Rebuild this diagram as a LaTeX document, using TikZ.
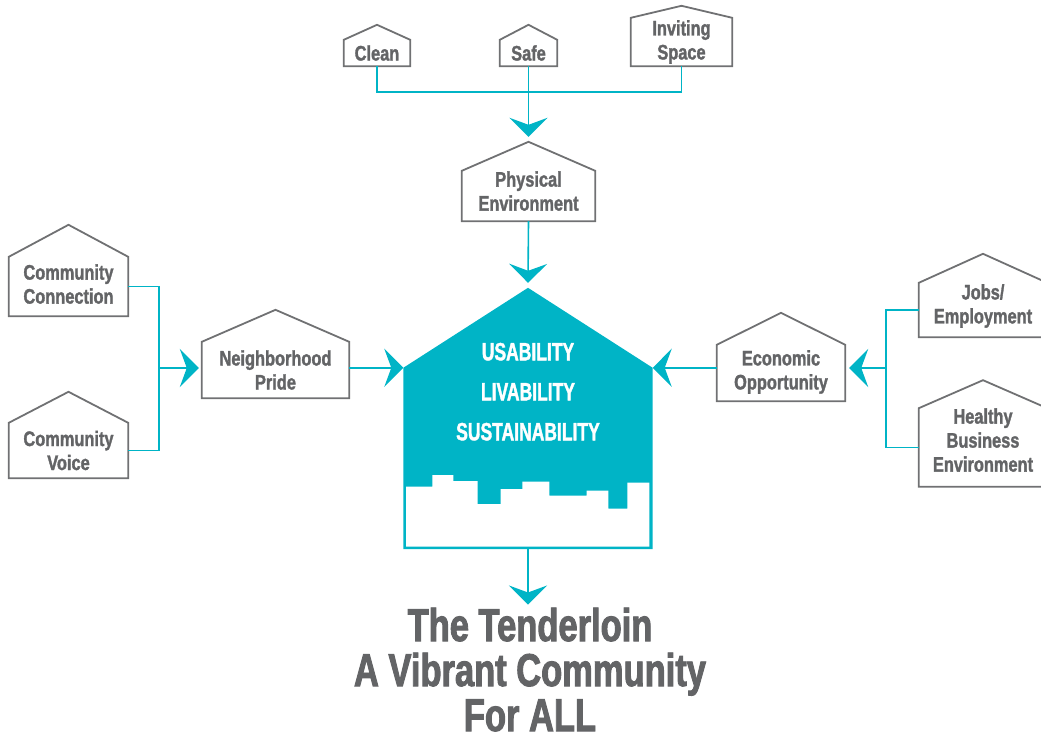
\documentclass[tikz,border=0pt]{standalone}
\usepackage{fontspec}
\usetikzlibrary{arrows.meta,calc}
\newfontfamily\labfont[FakeStretch=0.78,FakeBold=1.5]{Liberation Sans Bold}
\newfontfamily\capfont[FakeStretch=0.70,FakeBold=1.5]{Liberation Sans Bold}
\newfontfamily\bigfont[FakeStretch=0.75,FakeBold=2]{Liberation Sans Bold}
\definecolor{teal1}{RGB}{0,180,198}
\definecolor{gtext}{RGB}{99,100,102}
\definecolor{gline}{RGB}{112,113,115}
\newcommand\dropby[1]{\rule[-#1]{0pt}{#1}}
\begin{document}
\begin{tikzpicture}[x=1pt,y=-1pt,
  house/.style={inner sep=0pt, text=gtext, font=\labfont\fontsize{21}{24}\selectfont, align=center},
  hline/.style={draw=gline, line width=1.8pt, line join=miter},
  conn/.style={draw=teal1, line width=1.6pt},
  arr/.style={conn, -{Stealth[length=19pt,width=38pt,inset=7pt]}}]
\clip (0,0) rectangle (1041,736);
% house bodies with labels
\node[house, minimum width=66pt, minimum height=26pt] (clean) at (377,53) {Clean};
\node[house, minimum width=57pt, minimum height=26pt] (safe) at (528.5,53) {Safe};
\node[house, minimum width=101pt, minimum height=48pt] (inv) at (681.5,42) {Inviting\\Space};
\node[house, minimum width=133pt, minimum height=50pt] (phys) at (528.5,196) {Physical\\Environment\dropby{10pt}};
\node[house, minimum width=119pt, minimum height=59pt] (ccon) at (68.5,286.5) {Community\\Connection\dropby{5pt}};
\node[house, minimum width=119pt, minimum height=55pt] (cvoice) at (68.5,450.5) {Community\\Voice};
\node[house, minimum width=147pt, minimum height=56pt] (npride) at (275.5,370) {Neighborhood\\Pride};
\node[house, minimum width=128pt, minimum height=56pt] (eopp) at (781,373) {Economic\\Opportunity\dropby{6.4pt}};
\node[house, minimum width=128pt, minimum height=54pt] (jobs) at (983,310) {Jobs/\\Employment\dropby{12.4pt}};
\node[house, minimum width=128pt, minimum height=71pt] (healthy) at (983,447.5) {Healthy\\Business\\Environment\dropby{15pt}};
\foreach \n/\h in {clean/15,safe/15,inv/12,phys/29,ccon/32,cvoice/31,npride/32,eopp/32,jobs/29,healthy/28}{
  \draw[hline] (\n.south west) -- (\n.north west) -- ([yshift=\h pt]\n.north) -- (\n.north east) -- (\n.south east) -- cycle;
}
\coordinate (phys-peak) at ([yshift=29pt]phys.north);
% central house
\node[inner sep=0pt, minimum width=249pt, minimum height=181pt] (center) at (528,458.5) {};
\coordinate (cen-peak) at ([yshift=80pt]center.north);
\fill[teal1] (center.south west) -- (center.north west) -- (cen-peak) -- (center.north east) -- (center.south east) -- cycle;
\fill[white] (406,486.7) -- (432.3,486.7) -- (432.3,475) -- (453.3,475) -- (453.3,481) -- (477.7,481) -- (477.7,504) -- (500.7,504) -- (500.7,489) -- (522.3,489) -- (522.3,481.7) -- (549.3,481.7) -- (549.3,495.7) -- (586.7,495.7) -- (586.7,490.7) -- (608.3,490.7) -- (608.3,508.7) -- (627.3,508.7) -- (627.3,482.7) -- (649.3,482.7) -- (649.3,546.5) -- (406,546.5) -- cycle;
\node[inner sep=0pt, text=white, align=center, font=\capfont\fontsize{25}{40}\selectfont] (values) at (528,391.7) {USABILITY\\LIVABILITY\\SUSTAINABILITY};
% title
\node[inner sep=0pt, anchor=north, text=gtext, align=center, font=\bigfont\fontsize{46}{45}\selectfont] (title) at (530,607.5) {The Tenderloin\\A Vibrant Community\\For ALL};
% connectors
\coordinate (tjoin) at (528.5,92);
\draw[conn] (clean.south) |- (tjoin) -| (inv.south);
\draw[arr] (safe.south) -- ([yshift=5pt]phys-peak);
\draw[arr] (phys.south) -- ([yshift=5pt]cen-peak);
\draw[arr] (center.south) -- ([yshift=3pt]center.south |- title.north);
\coordinate (ljoin) at (159,368);
\draw[conn] (ccon.east) -| (ljoin) |- (cvoice.east);
\draw[arr] (ljoin) -- ([xshift=-3pt]npride.west |- ljoin);
\draw[arr] (npride.east |- center.north west) -- (center.north west);
\draw[arr] (eopp.west |- center.north east) -- (center.north east);
\coordinate (rjoin) at (886,368);
\draw[arr] (rjoin) -- ([xshift=4pt]eopp.east |- rjoin);
\draw[conn] (jobs.west) -| (rjoin) |- (healthy.west);
\end{tikzpicture}
\end{document}
